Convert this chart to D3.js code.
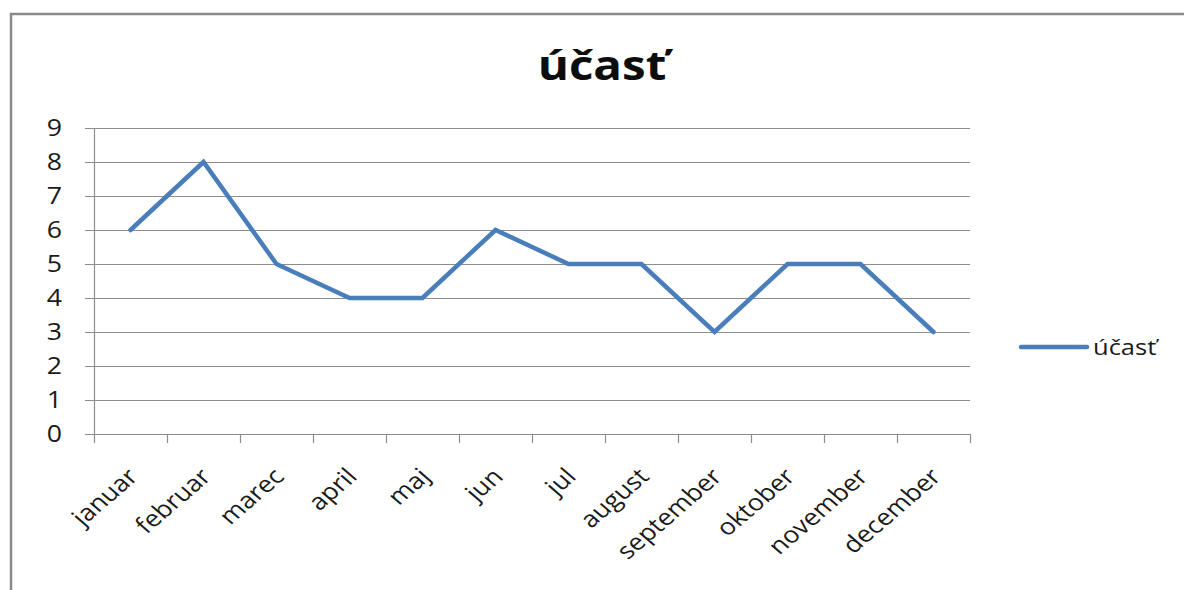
<!DOCTYPE html>
<html><head><meta charset="utf-8">
<script src="https://cdn.jsdelivr.net/npm/d3@7"></script>
<style>html,body{margin:0;padding:0;background:#fff;}svg{display:block;}</style>
</head><body>
<svg id="c" width="1184" height="590"></svg>
<script>
const categories = ["januar","februar","marec","april","maj","jun","jul","august","september","oktober","november","december"];
const values = [6,8,5,4,4,6,5,5,3,5,5,3];
const yTicks = [0,1,2,3,4,5,6,7,8,9];
const seriesName = "účasť";
const chartTitle = "účasť";

(function(){
const svg = d3.select("#c");
const font = "'Open Sans', sans-serif";
const sx = 1.16; // reference text appears horizontally stretched

// outer border
svg.append("rect").attr("x",11).attr("y",14).attr("width",1200).attr("height",600)
  .attr("fill","none").attr("stroke","#8a8a8a").attr("stroke-width",2.5);

const pl = 94, pr = 970, pt = 128, pb = 434;
const x = d3.scaleBand().domain(categories).range([pl, pr]);
const y = d3.scaleLinear().domain([0,9]).range([pb, pt]);

// gridlines
svg.append("g").selectAll("line").data(yTicks).join("line")
  .attr("x1", pl-9).attr("x2", pr)
  .attr("y1", d=>y(d)+0.5).attr("y2", d=>y(d)+0.5)
  .attr("stroke","#8c8c8c").attr("stroke-width",1.2);

// y axis line
svg.append("line").attr("x1",pl+0.5).attr("x2",pl+0.5).attr("y1",pt).attr("y2",pb)
  .attr("stroke","#8c8c8c").attr("stroke-width",1.2);

// y labels
svg.append("g").selectAll("text").data(yTicks).join("text")
  .attr("transform", d=>`translate(62,${y(d)+8}) scale(${sx},1)`)
  .attr("text-anchor","end").attr("font-family",font).attr("font-size",23).attr("fill","#1a1a1a")
  .text(d=>d);

// x ticks at band boundaries
const bounds = categories.map(c=>x(c)).concat([pr]);
svg.append("g").selectAll("line").data(bounds).join("line")
  .attr("x1", d=>Math.round(d)+0.5).attr("x2", d=>Math.round(d)+0.5)
  .attr("y1", pb).attr("y2", pb+9)
  .attr("stroke","#8c8c8c").attr("stroke-width",1.2);

// x labels
svg.append("g").selectAll("text").data(categories).join("text")
  .attr("transform", d=>`translate(${x(d)+x.bandwidth()/2+9},${pb+44}) scale(${sx},1) rotate(-45)`)
  .attr("text-anchor","end").attr("font-family",font).attr("font-size",23).attr("fill","#1a1a1a")
  .text(d=>d);

// line
const line = d3.line().x((d,i)=>x(categories[i])+x.bandwidth()/2).y(d=>y(d));
svg.append("path").datum(values).attr("d", line)
  .attr("fill","none").attr("stroke","#4a7ebb").attr("stroke-width",4.5)
  .attr("stroke-linejoin","miter").attr("stroke-linecap","round");

// title
svg.append("text").attr("transform",`translate(602,80) scale(${sx},1)`).attr("text-anchor","middle")
  .attr("font-family",font).attr("font-weight","bold").attr("font-size",41).attr("fill","#0d0d0d")
  .text(chartTitle);

// legend
svg.append("line").attr("x1",1021).attr("x2",1087).attr("y1",347).attr("y2",347)
  .attr("stroke","#4a7ebb").attr("stroke-width",4.5).attr("stroke-linecap","round");
svg.append("text").attr("transform",`translate(1093,355) scale(${sx},1)`)
  .attr("font-family",font).attr("font-size",22).attr("fill","#1a1a1a")
  .text(seriesName);
})();
</script>
</body></html>
